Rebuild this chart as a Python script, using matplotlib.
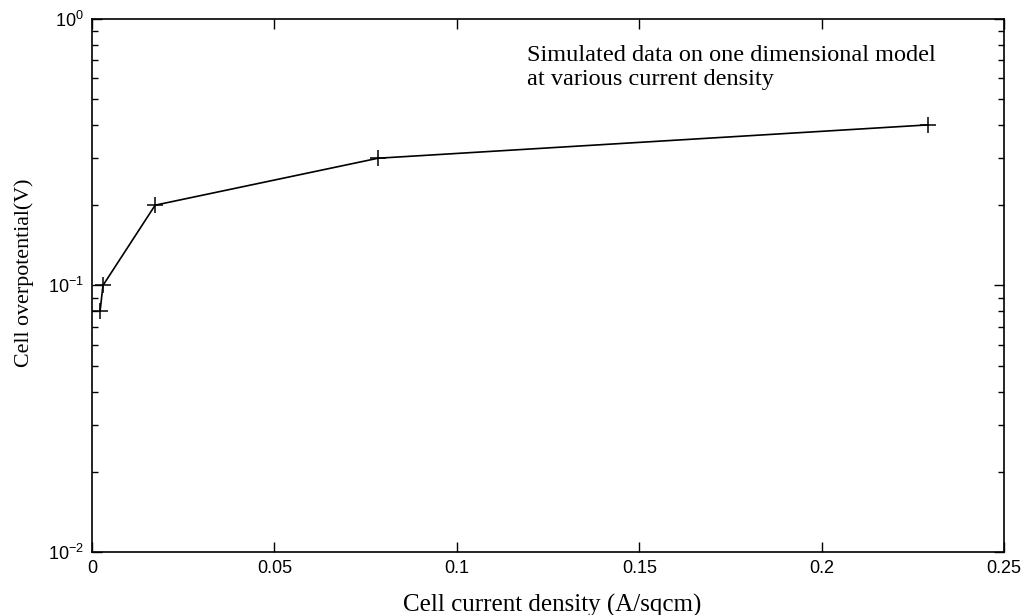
import numpy as np
import matplotlib
matplotlib.use("Agg")
import matplotlib.pyplot as plt

plt.rcParams['font.family'] = 'Liberation Sans'
plt.rcParams['mathtext.fontset'] = 'custom'
plt.rcParams['mathtext.rm'] = 'Liberation Sans'
plt.rcParams['mathtext.it'] = 'Liberation Sans'

# data
current_density = [0.0022, 0.003, 0.0173, 0.0784, 0.229]
overpotential = [0.08, 0.1, 0.2, 0.3, 0.4]
xticks = [0, 0.05, 0.1, 0.15, 0.2, 0.25]
xticklabels = ['0', '0.05', '0.1', '0.15', '0.2', '0.25']

fig = plt.figure(figsize=(10.26, 6.15), dpi=100)
ax = fig.add_axes([0.0897, 0.1024, 0.889, 0.867])

ax.plot(current_density, overpotential, color='black', linewidth=1.2,
        marker='+', markersize=11, markeredgewidth=1.1)

ax.set_yscale('log')
ax.set_xlim(0, 0.25)
ax.set_ylim(1e-2, 1e0)
ax.set_xticks(xticks)
ax.set_xticklabels(xticklabels)

ax.tick_params(which='both', direction='in', top=True, right=True,
               labelsize=13, width=1)
ax.tick_params(which='major', length=7, pad=6)
ax.tick_params(which='minor', length=4)
for s in ax.spines.values():
    s.set_linewidth(1.2)

ax.set_xlabel('Cell current density (A/sqcm)', family='Liberation Serif',
              fontsize=18)
ax.xaxis.set_label_coords(0.505, -0.078)
ax.set_ylabel('Cell overpotential(V)', family='Liberation Serif',
              fontsize=15.8)
ax.yaxis.set_label_coords(-0.064, 0.523)

ax.text(0.477, 0.908, 'Simulated data on one dimensional model\nat various current density',
        transform=ax.transAxes, family='Liberation Serif', fontsize=17.5,
        va='center', ha='left', linespacing=1.2)

fig.savefig('out.png', dpi=100)
